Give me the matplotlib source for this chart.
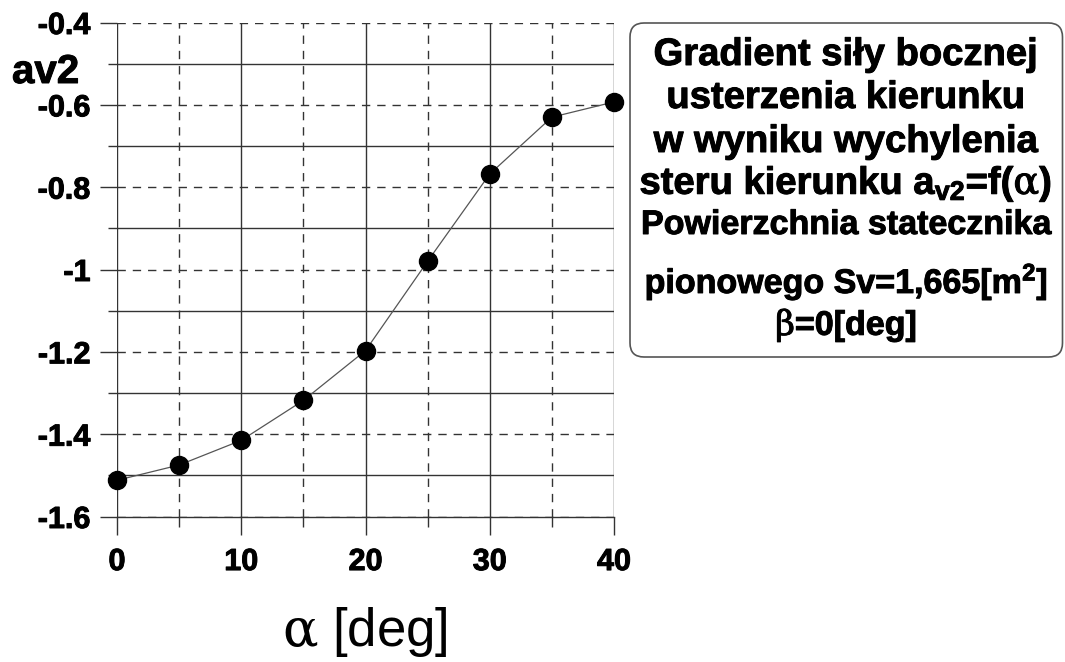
import matplotlib
matplotlib.use("Agg")
import matplotlib.pyplot as plt
import matplotlib.patheffects as pe
from matplotlib.patches import FancyBboxPatch
from matplotlib.ticker import FixedLocator

# Angle of attack [deg] and side-force gradient av2
alpha = [0, 5, 10, 15, 20, 25, 30, 35, 40]
av2 = [-1.512, -1.475, -1.415, -1.318, -1.197, -0.980, -0.768, -0.630, -0.593]

x_major = [0, 10, 20, 30, 40]
x_minor = [5, 15, 25, 35]
y_major = [-1.6, -1.4, -1.2, -1.0, -0.8, -0.6, -0.4]
y_minor = [-1.5, -1.3, -1.1, -0.9, -0.7, -0.5]
y_labels = ["-1.6", "-1.4", "-1.2", "-1", "-0.8", "-0.6", "-0.4"]
x_labels = ["0", "10", "20", "30", "40"]

info_lines = [
    "Gradient siły bocznej",
    "usterzenia kierunku",
    "w wyniku wychylenia",
    r"steru kierunku a$_{\mathbf{v2}}$=f($\mathsf{\alpha}$)",
    "Powierzchnia statecznika",
    r"pionowego Sv=1,665[m$^{\mathbf{2}}$]",
    r"$\mathsf{\beta}$=0[deg]",
]

plt.rcParams["font.family"] = ["Liberation Sans", "DejaVu Sans"]
plt.rcParams["mathtext.fontset"] = "custom"
plt.rcParams["mathtext.rm"] = "Liberation Sans:bold"
plt.rcParams["mathtext.bf"] = "Liberation Sans:bold"
plt.rcParams["mathtext.it"] = "Liberation Sans:bold:italic"
plt.rcParams["mathtext.sf"] = "DejaVu Serif"

W, H = 1065, 662
fig = plt.figure(figsize=(W / 100, H / 100), dpi=100)
fig.patch.set_facecolor("white")

heavy = [pe.withStroke(linewidth=0.7, foreground="black")]


def px(x0, y0, x1, y1):
    return [x0 / W, 1 - y1 / H, (x1 - x0) / W, (y1 - y0) / H]


grid_col = "#333333"
ax = fig.add_axes(px(117, 22.5, 614, 516.5))
ax.set_xlim(0, 40)
ax.set_ylim(-1.6, -0.4)
for s in ["top", "right", "left"]:
    ax.spines[s].set_visible(False)
ax.spines["bottom"].set_color(grid_col)
ax.spines["bottom"].set_linewidth(1.0)

ax.xaxis.set_major_locator(FixedLocator(x_major))
ax.xaxis.set_minor_locator(FixedLocator(x_minor))
ax.yaxis.set_major_locator(FixedLocator(y_major))
ax.yaxis.set_minor_locator(FixedLocator(y_minor))
ax.set_xticklabels(x_labels)
ax.set_yticklabels(y_labels)

ax.tick_params(axis="x", which="major", length=13, width=1.0, color=grid_col,
               pad=9, labelsize=22)
ax.tick_params(axis="x", which="minor", length=7, width=1.0, color=grid_col)
ax.tick_params(axis="y", which="major", length=12, width=1.0, color=grid_col,
               pad=7, labelsize=22)
ax.tick_params(axis="y", which="minor", length=6.5, width=1.0, color=grid_col)
for lab in ax.get_xticklabels() + ax.get_yticklabels():
    lab.set_fontweight("bold")
    lab.set_path_effects(heavy)

# solid lines at the round angles and the in-between levels, dashed elsewhere
ax.grid(True, axis="x", which="major", color=grid_col, lw=1.0, ls="-")
ax.grid(True, axis="x", which="minor", color=grid_col, lw=1.0, dashes=(6, 5))
ax.grid(True, axis="y", which="major", color=grid_col, lw=1.0, dashes=(6, 5))
ax.grid(True, axis="y", which="minor", color=grid_col, lw=1.0, ls="-")
ax.set_axisbelow(True)

ax.plot(alpha, av2, color="#555555", lw=0.9, zorder=3, clip_on=False)
ax.plot(alpha, av2, ls="none", marker="o", ms=13, color="black",
        zorder=4, clip_on=False)

fig.text(12 / W, 1 - 83 / H, "av2", fontsize=29, fontweight="bold",
         ha="left", va="baseline", path_effects=heavy)
fig.text(365 / W, 1 - 646 / H, r"$\mathsf{\alpha}$ [deg]", fontsize=38,
         ha="center", va="baseline")

# description box
bx = fig.add_axes(px(629, 22, 1064, 358))
bx.set_xlim(629, 1064)
bx.set_ylim(358, 22)
bx.axis("off")
box = FancyBboxPatch((630, 23), 432.5, 334, boxstyle="round,pad=0,rounding_size=14",
                     fc="white", ec="#555555", lw=1.2)
bx.add_patch(box)
baselines = [65, 108, 152, 194, 234, 293, 335]
sizes = [27.5, 27.5, 27.5, 27.5, 24.5, 24.5, 24.5]
for txt, yb, fs in zip(info_lines, baselines, sizes):
    bx.text(846, yb, txt, fontsize=fs, fontweight="bold", ha="center",
            va="baseline", path_effects=heavy)

fig.savefig("out.png", dpi=100)
